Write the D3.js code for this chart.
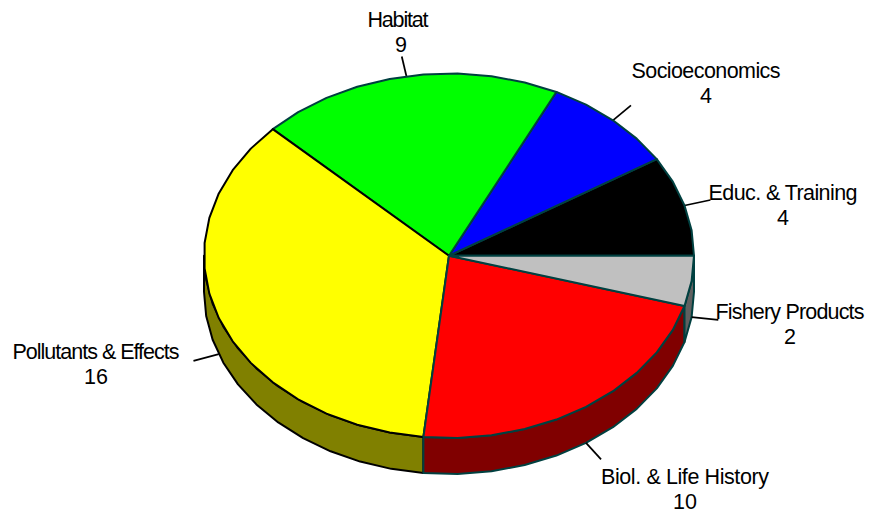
<!DOCTYPE html>
<html>
<head>
<meta charset="utf-8">
<script src="https://cdn.jsdelivr.net/npm/d3@7"></script>
<style>
    html, body { margin: 0; padding: 0; background: #fff; }
    text { font-family: "Liberation Sans", Arial, sans-serif; font-size: 21.5px; fill: #000; }
</style>
</head>
<body>
<div id="chart"></div>
<script>
// clockwise from the right-hand edge of the pie
const categories = ["Fishery Products", "Biol. & Life History", "Pollutants & Effects", "Habitat", "Socioeconomics", "Educ. & Training"];
const counts = [2, 10, 16, 9, 4, 4];
const topColors = ["#c0c0c0", "#ff0000", "#ffff00", "#00ff00", "#0000ff", "#000000"];
const sideColors = ["#606060", "#800000", "#808000", "#008000", "#000080", "#000000"];
const strokeColors = ["#004040", "#004040", "#000000", "#004040", "#004040", "#004040"];

// label centres, baselines and widths
const labelX = [790, 685, 96, 398, 706, 783];
const labelY = [319, 484, 359, 27, 78, 200];
const labelW = [149, 168, 167, 61, 149, 149];

const width = 869;
const height = 518;
const depth = 36;       // thickness of the pie
const leader = 1.11;    // how far the label lines reach past the edge
const stepDeg = 8;      // the outline is a polygon, not a real curve

const svg = d3.select("#chart").append("svg")
    .attr("width", width)
    .attr("height", height);

const x = d3.scaleLinear().domain([-1, 1]).range([204, 694]);
const y = d3.scaleLinear().domain([-1, 1]).range([73.5, 438]);

const pie = d3.pie()
    .sort(null)
    .startAngle(Math.PI / 2)
    .endAngle(Math.PI / 2 + 2 * Math.PI);
const slices = pie(counts);

// painted last slice first, so each edge takes the colour of the earlier slice
const paintOrder = slices.slice().reverse();

const line = d3.line();

// point on the rim at pie angle a, k times the radius out, dz pixels down
const rim = (a, k = 1, dz = 0) => [x(k * Math.sin(a)), y(-k * Math.cos(a)) + dz];

function arcAngles(a0, a1) {
    const step = stepDeg * Math.PI / 180;
    const n = Math.max(1, Math.round((a1 - a0) / step));
    return d3.range(n + 1).map(i => a0 + (a1 - a0) * i / n);
}

function topPath(d) {
    return line([[x(0), y(0)], ...arcAngles(d.startAngle, d.endAngle).map(a => rim(a))]) + "Z";
}

// side wall only shows on the lower half of the pie (up to the left edge)
function wallPath(d) {
    const a1 = Math.min(d.endAngle, 1.5 * Math.PI);
    const angles = arcAngles(d.startAngle, a1);
    const lower = angles.map(a => rim(a, 1, depth)).reverse();
    return line([...angles.map(a => rim(a)), ...lower]) + "Z";
}

// walls
svg.append("g")
    .selectAll("path")
    .data(paintOrder.filter(d => d.startAngle < 1.5 * Math.PI))
    .join("path")
    .attr("d", wallPath)
    .attr("fill", d => sideColors[d.index])
    .attr("stroke", d => strokeColors[d.index])
    .attr("stroke-width", 2)
    .attr("stroke-linejoin", "round");

// label lines
svg.append("g")
    .selectAll("line")
    .data(slices)
    .join("line")
    .each(function (d) {
        const mid = (d.startAngle + d.endAngle) / 2;
        const dz = mid < 1.5 * Math.PI ? depth : 0;
        const p0 = rim(mid, 1, dz);
        const p1 = rim(mid, leader, dz);
        d3.select(this)
            .attr("x1", p0[0]).attr("y1", p0[1])
            .attr("x2", p1[0]).attr("y2", p1[1]);
    })
    .attr("stroke", "#000")
    .attr("stroke-width", 1.75);

// top face
svg.append("g")
    .selectAll("path")
    .data(paintOrder)
    .join("path")
    .attr("d", topPath)
    .attr("fill", d => topColors[d.index])
    .attr("stroke", d => strokeColors[d.index])
    .attr("stroke-width", 2)
    .attr("stroke-linejoin", "round");

// labels: name, with the count on the line below
const labels = svg.append("g")
    .selectAll("g")
    .data(slices)
    .join("g");

labels.append("text")
    .attr("text-anchor", "middle")
    .attr("x", d => labelX[d.index])
    .attr("y", d => labelY[d.index])
    .attr("textLength", d => labelW[d.index])
    .attr("lengthAdjust", "spacing")
    .text(d => categories[d.index]);

labels.append("text")
    .attr("text-anchor", "middle")
    .attr("x", d => labelX[d.index] + (d.index === 3 ? 3 : 0))
    .attr("y", d => labelY[d.index] + 25)
    .text(d => d.data);
</script>
</body>
</html>
